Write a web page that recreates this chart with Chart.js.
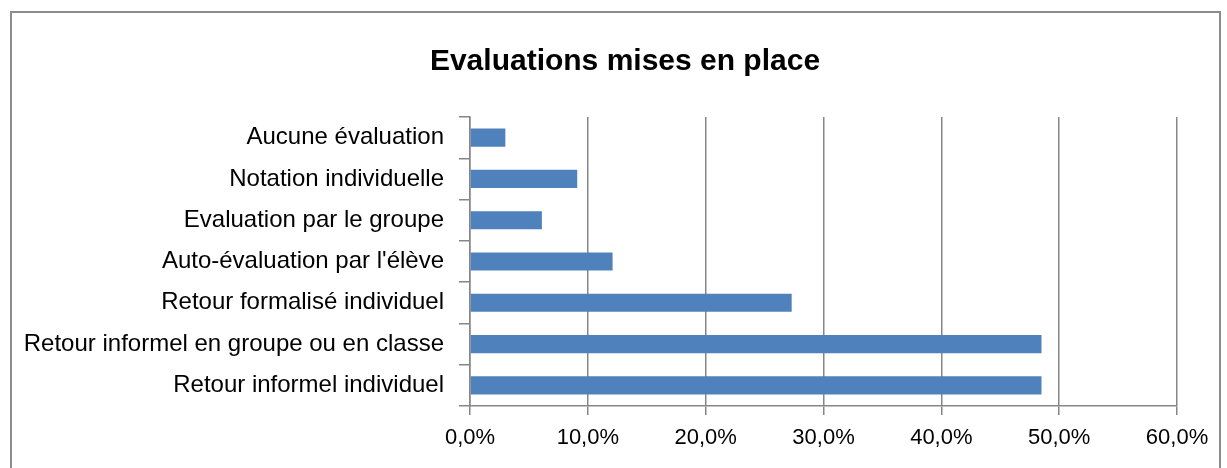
<!DOCTYPE html>
<html>
<head>
<meta charset="utf-8">
<script src="https://cdn.jsdelivr.net/npm/chart.js@4"></script>
<style>
  html, body { margin: 0; padding: 0; background: #fff; }
  #wrap { position: relative; width: 1227px; height: 468px; overflow: hidden; }
  #frame { position: absolute; left: 10px; top: 11px; width: 1211px; height: 470px; border: 2px solid #8c8c8c; box-sizing: border-box; }
  canvas { position: absolute; left: 0; top: 0; }
</style>
</head>
<body>
<div id="wrap">
  <div id="frame"></div>
  <canvas id="chart" width="1227" height="468"></canvas>
</div>
<script>
    'use strict';

    // categories, top to bottom
    const categories = [
        'Aucune évaluation',
        'Notation individuelle',
        'Evaluation par le groupe',
        "Auto-évaluation par l'élève",
        'Retour formalisé individuel',
        'Retour informel en groupe ou en classe',
        'Retour informel individuel'
    ];

    // percentages
    const values = [3.0, 9.1, 6.1, 12.1, 27.3, 48.5, 48.5];

    const xMin = 0;
    const xMax = 60;
    const xStep = 10;

    const titleText = 'Evaluations mises en place';
    const gridColor = '#868686';
    const fontFamily = 'Liberation Sans, Arial, sans-serif';

    // title drawn centred over the frame (Excel centres it on the whole chart box)
    const frameTitle = {
        id: 'frameTitle',
        afterDraw: function(chart) {
            const ctx = chart.ctx;
            ctx.save();
            ctx.fillStyle = '#000';
            ctx.font = 'bold 30px ' + fontFamily;
            ctx.textAlign = 'center';
            ctx.textBaseline = 'middle';
            ctx.fillText(titleText, 625, 62);
            ctx.restore();
        }
    };

    new Chart(document.getElementById('chart'), {
        type: 'bar',
        data: {
            labels: categories,
            datasets: [{
                data: values,
                backgroundColor: '#4f81bd',
                borderWidth: 0,
                barPercentage: 0.44,
                categoryPercentage: 1
            }]
        },
        plugins: [frameTitle],
        options: {
            indexAxis: 'y',
            responsive: false,
            animation: false,
            layout: {
                padding: { left: 12, right: 50, top: 117, bottom: 0 }
            },
            plugins: {
                legend: { display: false },
                tooltip: { enabled: false },
                title: { display: false }
            },
            scales: {
                x: {
                    min: xMin,
                    max: xMax,
                    afterFit: function(scale) { scale.height = 62; },
                    ticks: {
                        stepSize: xStep,
                        color: '#000',
                        padding: 10,
                        font: { family: fontFamily, size: 22 },
                        callback: function(v) { return v.toFixed(1).replace('.', ',') + '%'; }
                    },
                    grid: {
                        color: gridColor,
                        lineWidth: 1.5,
                        tickLength: 9
                    },
                    border: { color: gridColor, width: 1.5 }
                },
                y: {
                    afterFit: function(scale) { scale.width = 458; },
                    ticks: {
                        color: '#000',
                        padding: 15,
                        font: { family: fontFamily, size: 24 }
                    },
                    grid: {
                        offset: true,
                        drawOnChartArea: false,
                        color: gridColor,
                        lineWidth: 1.5,
                        tickLength: 11
                    },
                    border: { color: gridColor, width: 1.5 }
                }
            }
        }
    });
</script>
</body>
</html>
